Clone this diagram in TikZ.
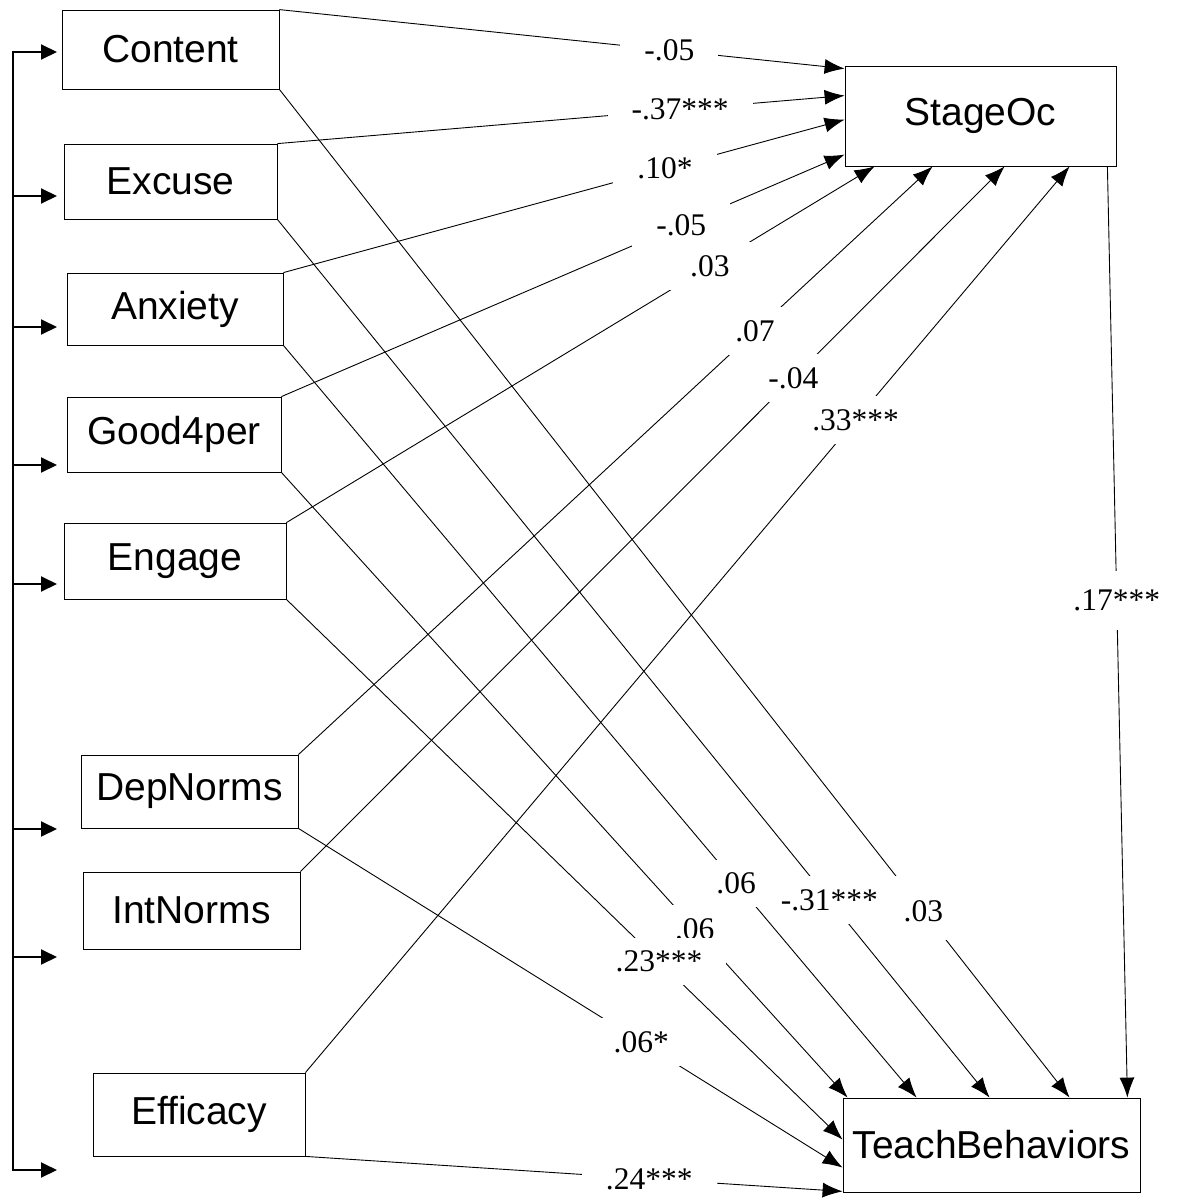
\documentclass[tikz,border=0pt]{standalone}
\usepackage{fontspec}
\setmainfont{Liberation Serif}
\setsansfont{Liberation Sans}
\usetikzlibrary{arrows.meta}

\begin{document}
\begin{tikzpicture}[x=1pt,y=-1pt,
      var/.style={draw,line width=0.8pt,inner sep=0pt,minimum width=216pt,minimum height=76pt,
                  font=\sffamily\fontsize{39}{42}\selectfont},
      coef/.style={fill=white,inner xsep=24pt,inner ysep=13pt,font=\fontsize{31.5}{34}\selectfont},
      link/.style={-{Latex[length=20pt,width=15pt]},line width=0.9pt},
      bus/.style={line width=2pt,{Triangle[length=16pt,width=15pt]}-{Triangle[length=16pt,width=15pt]}},
      feed/.style={line width=2pt,-{Triangle[length=16pt,width=15pt]}}]
    \useasboundingbox (0,0) rectangle (1179,1199);
    % predictors
    \node[var,minimum width=217pt,minimum height=79pt] (cont) at (170.5,49.5)  {Content};
    \node[var,minimum width=213pt,minimum height=75pt] (exc)  at (170.5,181.5) {Excuse};
    \node[var,minimum height=72pt]                     (anx)  at (175,309)     {Anxiety};
    \node[var,minimum width=214pt,minimum height=75pt] (good) at (174,434.5)   {Good4per};
    \node[var,minimum width=222pt]                     (eng)  at (175,561)     {Engage};
    \node[var,minimum width=217pt,minimum height=73pt] (dep)  at (189.5,791.5) {DepNorms};
    \node[var,minimum width=217pt,minimum height=77pt] (int)  at (191.5,910.5) {IntNorms};
    \node[var,minimum width=212pt,minimum height=83pt] (eff)  at (199,1114.5)  {Efficacy};
    % outcomes
    \node[var,minimum width=271pt,minimum height=100pt] (so) at (980.5,116)   {StageOc};
    \node[var,minimum width=297pt,minimum height=94pt]  (tb) at (991.5,1145) {TeachBehaviors};
    % correlation bracket on the left
    \foreach \y [count=\i] in {52,196,327,465,584,829,957,1170} {
      \coordinate (b\i) at (13,\y); \coordinate (t\i) at (57,\y);}
    \draw[bus] (t1) -| (b8) -- (t8);
    \foreach \i in {2,...,7} \draw[feed] (b\i) -- (t\i);
    % paths into StageOc
    \draw[link] (cont.north east) -- node[coef,pos=.69]{-.05}    ([yshift=-3pt]so.north west);
    \draw[link] (exc.north east)  -- node[coef,pos=.71]{-.37***} ([yshift=-30pt]so.north west);
    \draw[link] (anx.north east)  -- node[coef,pos=.68]{.10*}    ([yshift=-54pt]so.north west);
    \draw[link] (good.north east) -- node[coef,pos=.71]{-.05}    ([yshift=-89pt]so.north west);
    \draw[link] (eng.north east)  -- node[coef,pos=.72]{.03}     ([xshift=30pt]so.south west);
    \draw[link] (dep.north east)  -- node[coef,pos=.72]{.07}     ([xshift=88pt]so.south west);
    \draw[link] (int.north east)  -- node[coef,pos=.70]{-.04}    ([xshift=160pt]so.south west);
    \draw[link] (eff.north east)  -- node[coef,pos=.72]{.33***}  ([xshift=225pt]so.south west);
    % paths into TeachBehaviors
    \draw[link] ([xshift=-9pt]so.south east) -- node[coef,pos=.466,inner ysep=19pt]{.17***} ([xshift=-13pt]tb.north east);
    \draw[link] (cont.south east) -- node[coef,pos=.815,inner ysep=18pt]{.03} ([xshift=227pt]tb.north west);
    \draw[link] (exc.south east)  -- node[coef,pos=.775]{-.31***} ([xshift=147pt]tb.north west);
    \draw[link] (anx.south east)  -- node[coef,pos=.715]{.06}    ([xshift=74pt]tb.north west);
    \draw[link] (good.south east) -- node[coef,pos=.73]{.06}     ([xshift=5pt]tb.north west);
    \draw[link] (eng.south east)  -- node[coef,pos=.67]{.23***}  ([yshift=-42pt]tb.north west);
    \draw[link] (dep.south east)  -- node[coef,pos=.63]{.06*}    ([yshift=-70pt]tb.north west);
    \draw[link] (eff.south east)  -- node[coef,pos=.64]{.24***}  ([yshift=1pt]tb.south west);
\end{tikzpicture}
\end{document}
